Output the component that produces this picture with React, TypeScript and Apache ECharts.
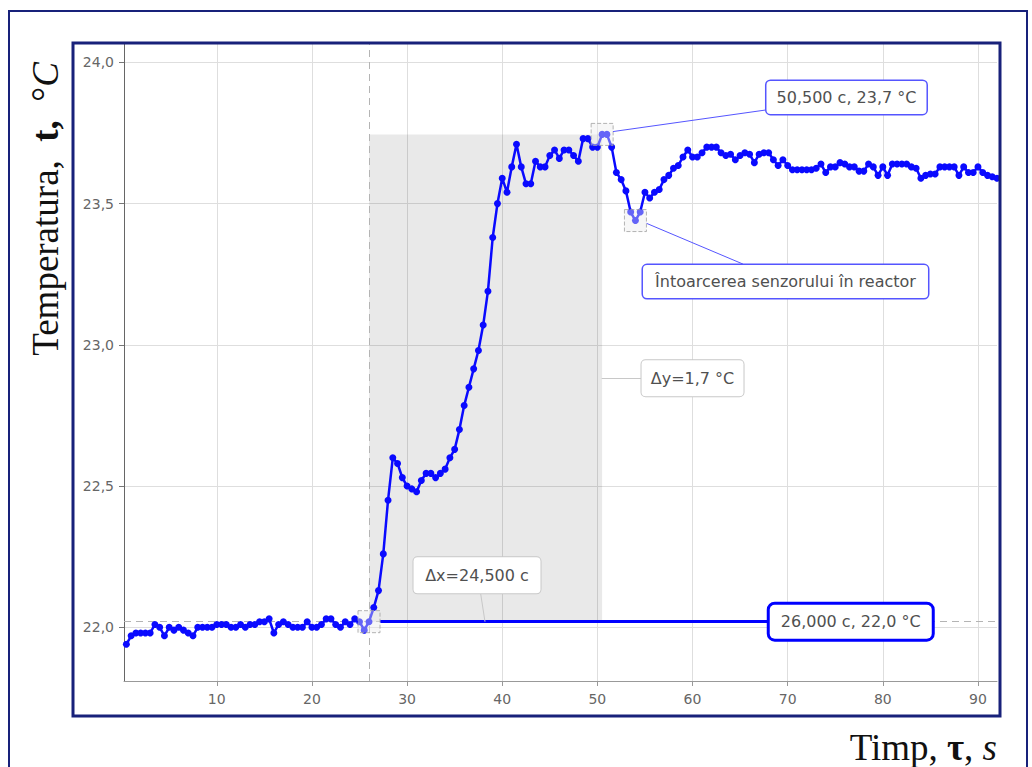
import React, { useEffect, useRef } from "react";
import * as echarts from "echarts";

// ---- data (sampled every 0.5 s, first sample at 0.5 s) ----
const SAMPLE_START_S = 0.5;
const SAMPLE_STEP_S = 0.5;

// 0.5 s .. 25.5 s
const baselineTemps = [
  21.94, 21.97, 21.98, 21.98, 21.98, 21.98, 22.01, 22.0, 21.97, 22.0,
  21.99, 22.0, 21.99, 21.98, 21.97, 22.0, 22.0, 22.0, 22.0, 22.01,
  22.01, 22.01, 22.0, 22.0, 22.01, 22.0, 22.01, 22.01, 22.02, 22.02,
  22.03, 21.98, 22.01, 22.02, 22.01, 22.0, 22.0, 22.0, 22.02, 22.0,
  22.0, 22.01, 22.03, 22.03, 22.01, 22.0, 22.02, 22.01, 22.03, 22.02,
  21.99,
];
// 26.0 s .. 40.0 s
const riseTemps = [
  22.02, 22.07, 22.13, 22.26, 22.45, 22.6, 22.58, 22.53, 22.5, 22.49,
  22.48, 22.52, 22.545, 22.545, 22.53, 22.545, 22.56, 22.6, 22.63, 22.7,
  22.785, 22.85, 22.915, 22.98, 23.07, 23.19, 23.38, 23.5, 23.59,
];
// 40.5 s .. 51.5 s
const plateauTemps = [
  23.54, 23.63, 23.71, 23.63, 23.57, 23.57, 23.65, 23.63, 23.63, 23.67,
  23.69, 23.66, 23.69, 23.69, 23.67, 23.65, 23.73, 23.73, 23.7, 23.7,
  23.745, 23.745, 23.7,
];
// 52.0 s .. 60.0 s
const dipTemps = [
  23.61, 23.585, 23.545, 23.47, 23.44, 23.47, 23.54, 23.52, 23.54, 23.55,
  23.585, 23.6, 23.625, 23.635, 23.665, 23.69, 23.665,
];
// 60.5 s .. 92.0 s
const tailTemps = [
  23.665, 23.68, 23.7, 23.7, 23.7, 23.68, 23.67, 23.675, 23.655, 23.67,
  23.68, 23.675, 23.645, 23.675, 23.68, 23.68, 23.655, 23.635, 23.655, 23.635,
  23.62, 23.62, 23.62, 23.62, 23.62, 23.625, 23.64, 23.61, 23.63, 23.63,
  23.645, 23.64, 23.63, 23.63, 23.615, 23.615, 23.64, 23.63, 23.6, 23.63,
  23.6, 23.64, 23.64, 23.64, 23.64, 23.63, 23.625, 23.59, 23.6, 23.605,
  23.605, 23.63, 23.63, 23.63, 23.63, 23.6, 23.63, 23.61, 23.61, 23.63,
  23.61, 23.6, 23.595, 23.59,
];

const xTicks = [10, 20, 30, 40, 50, 60, 70, 80, 90];
const yTicks = [22.0, 22.5, 23.0, 23.5, 24.0];

// cursor times (s)
const cursorATime = 26.0;
const cursorBTime = 50.5;
const dipTime = 54.0;
const dipText = "Întoarcerea senzorului în reactor";

// ---- layout constants ----
const X_MIN = 0.25;
const X_MAX = 92;
const Y_MIN = 21.81;
const Y_MAX = 24.065;

const temps = [...baselineTemps, ...riseTemps, ...plateauTemps, ...dipTemps, ...tailTemps];
const times = temps.map((_, i) => SAMPLE_START_S + i * SAMPLE_STEP_S);
const seriesData = times.map((t, i) => [t, temps[i]]);
const valueAt = (t: number) => temps[Math.round((t - SAMPLE_START_S) / SAMPLE_STEP_S)];

const vA = valueAt(cursorATime);
const vB = valueAt(cursorBTime);
const vDip = valueAt(dipTime);

const fmt = (n: number, d: number) => n.toFixed(d).replace(".", ",");

const labelA = `${fmt(cursorATime, 3)} c, ${fmt(vA, 1)} °C`;
const labelB = `${fmt(cursorBTime, 3)} c, ${fmt(vB, 1)} °C`;
const labelDx = `Δx=${fmt(cursorBTime - cursorATime, 3)} c`;
const labelDy = `Δy=${fmt(vB - vA, 1)} °C`;

const BLUE = "#0a0aff";
const THIN_BLUE = "#5555ff";
const GRAY_BOX = "#c8c8c8";
const NAVY = "#18217a";

function boxLabel(text: string, w: number, h: number, borderColor: string, borderWidth: number, radius: number) {
  return {
    show: true,
    position: "inside",
    formatter: () => text,
    fontFamily: "DejaVu Sans",
    fontSize: 16,
    color: "#505050",
    backgroundColor: "#ffffff",
    borderColor,
    borderWidth,
    borderRadius: radius,
    width: w,
    height: h,
    lineHeight: h,
    align: "center",
    verticalAlign: "middle",
    padding: 0,
  };
}

function labelPoint(coord: number[], label: any) {
  return {
    coord,
    symbol: "rect",
    symbolSize: 1,
    itemStyle: { color: "rgba(0,0,0,0)" },
    label,
  };
}

function seg(a: number[], b: number[], color: string, width: number) {
  const ls = { color, width, type: "solid" };
  return [
    { coord: a, lineStyle: ls },
    { coord: b, lineStyle: ls },
  ];
}

const serif = "'Liberation Serif', 'Times New Roman', serif";

const option: any = {
  animation: false,
  backgroundColor: "#ffffff",
  grid: { left: 124, right: 35, top: 44, bottom: 86, containLabel: false },
  xAxis: {
    type: "value",
    min: X_MIN,
    max: X_MAX,
    minInterval: 10,
    maxInterval: 10,
    axisLine: { show: true, onZero: false, lineStyle: { color: "#999", width: 1 } },
    axisTick: { show: true, length: 5, customValues: xTicks, lineStyle: { color: "#999" } },
    axisLabel: {
      customValues: xTicks,
      formatter: (v: number) => String(v),
      color: "#666",
      fontSize: 14,
      fontFamily: "DejaVu Sans",
      margin: 11,
    },
    splitLine: { show: true, lineStyle: { color: "#dedede", width: 1 } },
  },
  yAxis: {
    type: "value",
    min: Y_MIN,
    max: Y_MAX,
    minInterval: 0.5,
    maxInterval: 0.5,
    axisLine: { show: true, onZero: false, lineStyle: { color: "#666", width: 1 } },
    axisTick: { show: true, length: 5, customValues: yTicks, lineStyle: { color: "#777" } },
    axisLabel: {
      customValues: yTicks,
      formatter: (v: number) => fmt(v, 1),
      color: "#666",
      fontSize: 14,
      fontFamily: "DejaVu Sans",
      margin: 10,
    },
    splitLine: { show: true, lineStyle: { color: "#dedede", width: 1 } },
  },
  series: [
    {
      name: "Temperatura",
      type: "line",
      data: seriesData,
      z: 3,
      showAllSymbol: true,
      symbol: "circle",
      symbolSize: 7,
      itemStyle: { color: BLUE },
      lineStyle: { color: BLUE, width: 2.5 },
      emphasis: { disabled: true },
      markArea: {
        silent: true,
        z: 1,
        itemStyle: { color: "rgba(0,0,0,0.085)" },
        data: [[{ coord: [cursorATime, vA] }, { coord: [cursorBTime, vB] }]],
      },
      markLine: {
        silent: true,
        z: 5,
        symbol: ["none", "none"],
        label: { show: false },
        emphasis: { disabled: true },
        data: [
          seg([27.2, vA], [68.07, vA], "#0000ff", 3),
          seg([51.64, 23.755], [67.62, 23.831], THIN_BLUE, 1),
          seg([55.18, 23.43], [65.3, 23.286], THIN_BLUE, 1),
          seg([50.45, 22.882], [54.66, 22.882], GRAY_BOX, 1),
          seg([37.74, 22.118], [38.19, vA], GRAY_BOX, 1),
        ],
      },
      markPoint: {
        silent: true,
        z: 6,
        data: [
          labelPoint([76.18, 23.876], boxLabel(labelB, 160, 33, THIN_BLUE, 1.5, 4)),
          labelPoint([69.77, 23.224], boxLabel(dipText, 285, 33, THIN_BLUE, 1.5, 4)),
          labelPoint([60.0, 22.882], boxLabel(labelDy, 102, 36, GRAY_BOX, 1, 4)),
          labelPoint([37.35, 22.184], boxLabel(labelDx, 127, 36, GRAY_BOX, 1, 4)),
          labelPoint([76.63, vA], boxLabel(labelA, 162, 34, "#0000ff", 3, 5)),
        ],
      },
    },
    {
      name: "cursors",
      type: "scatter",
      z: 4,
      silent: true,
      symbol: "rect",
      symbolSize: 22,
      data: [
        [cursorATime, vA],
        [cursorBTime, vB],
        [dipTime, vDip],
      ],
      itemStyle: {
        color: "rgba(236,236,236,0.5)",
        borderColor: "#a0a0a0",
        borderWidth: 1,
        borderType: "dashed",
      },
      emphasis: { disabled: true },
      markLine: {
        silent: true,
        z: 1,
        symbol: ["none", "none"],
        label: { show: false },
        emphasis: { disabled: true },
        lineStyle: { color: "#b4b4b4", width: 1, type: [7, 5] },
        data: [{ xAxis: cursorATime }, { yAxis: vA }],
      },
    },
  ],
  graphic: [
    {
      type: "rect",
      z: 100,
      silent: true,
      shape: { x: 9, y: 11, width: 1018, height: 800 },
      style: { fill: "none", stroke: NAVY, lineWidth: 2 },
    },
    {
      type: "rect",
      z: 100,
      silent: true,
      shape: { x: 73, y: 43, width: 927, height: 673 },
      style: { fill: "none", stroke: NAVY, lineWidth: 3 },
    },
    {
      type: "text",
      z: 100,
      silent: true,
      x: 45,
      y: 209,
      rotation: Math.PI / 2,
      style: {
        text: "{n|Temperatura,  }{b|t,}{n|  °}{i|C}",
        textAlign: "center",
        textVerticalAlign: "middle",
        rich: {
          n: { fontFamily: serif, fontSize: 37, fill: "#111" },
          b: { fontFamily: serif, fontSize: 37, fontWeight: "bold", fill: "#111" },
          i: { fontFamily: serif, fontSize: 37, fontStyle: "italic", fill: "#111" },
        },
      },
    },
    {
      type: "text",
      z: 100,
      silent: true,
      x: 997,
      y: 747,
      style: {
        text: "{n|Timp, }{b|τ}{n|, }{i|s}",
        textAlign: "right",
        textVerticalAlign: "middle",
        rich: {
          n: { fontFamily: serif, fontSize: 37, fill: "#111" },
          b: { fontFamily: serif, fontSize: 37, fontWeight: "bold", fill: "#111" },
          i: { fontFamily: serif, fontSize: 37, fontStyle: "italic", fill: "#111" },
        },
      },
    },
  ],
};

export default function App() {
  const ref = useRef<HTMLDivElement>(null);
  useEffect(() => {
    if (!ref.current) return;
    const chart = echarts.init(ref.current, undefined, { renderer: "svg" });
    chart.setOption(option);
    return () => chart.dispose();
  }, []);
  return (
    <div
      ref={ref}
      style={{ position: "fixed", left: 0, top: 0, width: 1032, height: 767, background: "#fff" }}
    />
  );
}
